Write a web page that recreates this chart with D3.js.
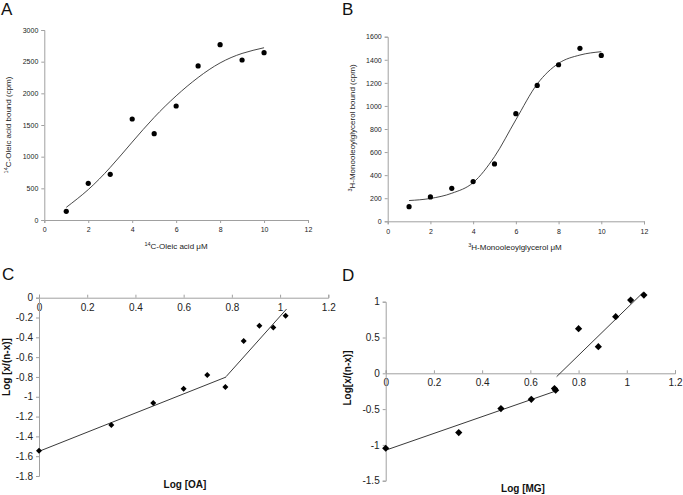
<!DOCTYPE html>
<html><head><meta charset="utf-8">
<script src="https://cdn.jsdelivr.net/npm/d3@7"></script>
<style>body{margin:0;background:#fff}svg{display:block;font-family:"Liberation Sans",Arial,sans-serif}</style>
</head><body><svg id="c" width="683" height="495"></svg>
<script>
// Panel A
const aX = [1,2,3,4,5,6,7,8,9,10];
const aY = [137,579,721,1595,1363,1800,2432,2768,2526,2642];
const aFitX = [1,2,3,4,5,6,7,8,9,10];
const aFitY = [200,480,830,1230,1620,1960,2250,2480,2630,2720];
const aXTicks = [0,2,4,6,8,10,12];
const aYTicks = [0,500,1000,1500,2000,2500,3000];
// Panel B
const bX = [1,2,3,4,5,6,7,8,9,10];
const bY = [127,211,286,344,497,933,1178,1357,1499,1438];
const bFitX = [1,2,3,4,5,6,7,8,9,10];
const bFitY = [180,198,243,335,560,880,1190,1369,1441,1470];
const bXTicks = [0,2,4,6,8,10,12];
const bYTicks = [0,200,400,600,800,1000,1200,1400,1600];
// Panel C
const cX = [0,0.30,0.474,0.60,0.698,0.773,0.849,0.914,0.972,1.023];
const cY = [-1.544,-1.285,-1.063,-0.919,-0.781,-0.902,-0.437,-0.283,-0.30,-0.182];
const cLine1 = [[0,-1.551],[0.776,-0.801]];
const cLine2 = [[0.776,-0.797],[1.027,-0.114]];
const cXTicks = [0,0.2,0.4,0.6,0.8,1,1.2];
const cYTicks = [0,-0.2,-0.4,-0.6,-0.8,-1,-1.2,-1.4,-1.6,-1.8];
// Panel D
const dX = [0,0.303,0.478,0.604,0.700,0.705,0.800,0.882,0.954,1.016,1.071];
const dY = [-1.047,-0.828,-0.493,-0.363,-0.214,-0.237,0.623,0.372,0.791,1.023,1.093];
const dLine1 = [[0,-1.074],[0.706,-0.247]];
const dLine2 = [[0.709,-0.047],[1.068,1.13]];
const dXTicks = [0,0.2,0.4,0.6,0.8,1,1.2];
const dYTicks = [1,0.5,0,-0.5,-1,-1.5];

const svg = d3.select("#c");
const fmt = d => String(d);
const axisCol = "#a0a0a0";

function styleAxis(g, fs){
  g.selectAll("path.domain").attr("stroke", axisCol).attr("stroke-width",1);
  g.selectAll(".tick line").attr("stroke", axisCol);
  g.selectAll(".tick text").attr("fill","#222").attr("font-size",fs).attr("font-family","Liberation Sans, Arial, sans-serif");
}

function letter(x,y,t){
  svg.append("text").attr("x",x).attr("y",y).attr("font-size",17).attr("fill","#111").text(t);
}

// ---------- A ----------
{
  const x = d3.scaleLinear().domain([0,12]).range([44.3,308]);
  const y = d3.scaleLinear().domain([0,3000]).range([220,30]);
  const gx = svg.append("g").attr("transform","translate(0,220)")
    .call(d3.axisBottom(x).tickValues(aXTicks).tickSize(3).tickFormat(fmt));
  styleAxis(gx,7); gx.selectAll(".tick text").attr("dy","0.9em");
  const gy = svg.append("g").attr("transform","translate(44.3,0)")
    .call(d3.axisLeft(y).tickValues(aYTicks).tickSize(3).tickFormat(fmt));
  styleAxis(gy,7);
  svg.append("path").datum(aFitX.map((d,i)=>[d,aFitY[i]]))
    .attr("fill","none").attr("stroke","#333").attr("stroke-width",0.9)
    .attr("d", d3.line().x(d=>x(d[0])).y(d=>y(d[1])).curve(d3.curveNatural));
  svg.append("g").selectAll("circle").data(aX).join("circle")
    .attr("cx",d=>x(d)).attr("cy",(d,i)=>y(aY[i])).attr("r",2.6).attr("fill","#000");
  const xl = svg.append("text").attr("x",176).attr("y",249).attr("text-anchor","middle").attr("font-size",8).attr("fill","#222");
  xl.append("tspan").attr("font-size",5.5).attr("dy",-3).text("14");
  xl.append("tspan").attr("dy",3).text("C-Oleic acid μM");
  const yl = svg.append("text").attr("transform","translate(11,125) rotate(-90)").attr("text-anchor","middle").attr("font-size",8).attr("fill","#222");
  yl.append("tspan").attr("font-size",5.5).attr("dy",-3).text("14");
  yl.append("tspan").attr("dy",3).text("C-Oleic acid bound (cpm)");
  letter(1,15,"A");
}
// ---------- B ----------
{
  const x = d3.scaleLinear().domain([0,12]).range([387.7,644]);
  const y = d3.scaleLinear().domain([0,1600]).range([221.3,36.7]);
  const gx = svg.append("g").attr("transform","translate(0,221.3)")
    .call(d3.axisBottom(x).tickValues(bXTicks).tickSize(3).tickFormat(fmt));
  styleAxis(gx,7); gx.selectAll(".tick text").attr("dy","0.9em");
  const gy = svg.append("g").attr("transform","translate(387.7,0)")
    .call(d3.axisLeft(y).tickValues(bYTicks).tickSize(3).tickFormat(fmt));
  styleAxis(gy,7);
  svg.append("path").datum(bFitX.map((d,i)=>[d,bFitY[i]]))
    .attr("fill","none").attr("stroke","#333").attr("stroke-width",0.9)
    .attr("d", d3.line().x(d=>x(d[0])).y(d=>y(d[1])).curve(d3.curveMonotoneX));
  svg.append("g").selectAll("circle").data(bX).join("circle")
    .attr("cx",d=>x(d)).attr("cy",(d,i)=>y(bY[i])).attr("r",2.6).attr("fill","#000");
  const xl = svg.append("text").attr("x",515).attr("y",250).attr("text-anchor","middle").attr("font-size",8).attr("fill","#222");
  xl.append("tspan").attr("font-size",5.5).attr("dy",-3).text("3");
  xl.append("tspan").attr("dy",3).text("H-Monooleoylglycerol μM");
  const yl = svg.append("text").attr("transform","translate(355,128) rotate(-90)").attr("text-anchor","middle").attr("font-size",8).attr("fill","#222");
  yl.append("tspan").attr("font-size",5.5).attr("dy",-3).text("3");
  yl.append("tspan").attr("dy",3).text("H-Monooleoylglycerol bound (cpm)");
  letter(342,15,"B");
}
const sq = s => d3.symbol().type(d3.symbolSquare).size(s);
// ---------- C ----------
{
  const x = d3.scaleLinear().domain([0,1.2]).range([39,328.3]);
  const y = d3.scaleLinear().domain([-1.8,0]).range([476,297.7]);
  const gx = svg.append("g").attr("transform",`translate(0,${y(0)})`)
    .call(d3.axisTop(x).tickValues(cXTicks).tickSize(3).tickFormat(fmt));
  styleAxis(gx,10);
  gx.selectAll(".tick text").attr("y",6).attr("dy","0.71em");
  const gy = svg.append("g").attr("transform","translate(39,0)")
    .call(d3.axisLeft(y).tickValues(cYTicks).tickSize(3).tickFormat(fmt));
  styleAxis(gy,10);
  const ln = d3.line().x(d=>x(d[0])).y(d=>y(d[1]));
  [cLine1,cLine2].forEach(L=>svg.append("path").attr("d",ln(L)).attr("stroke","#222").attr("stroke-width",0.9).attr("fill","none"));
  svg.append("g").selectAll("path").data(cX).join("path")
    .attr("transform",(d,i)=>`translate(${x(d)},${y(cY[i])}) rotate(45)`).attr("d",sq(18)).attr("fill","#000");
  svg.append("text").attr("x",185).attr("y",488).attr("text-anchor","middle").attr("font-size",10).attr("font-weight","bold").attr("fill","#111").text("Log [OA]");
  svg.append("text").attr("transform","translate(10,367) rotate(-90)").attr("text-anchor","middle").attr("font-size",10).attr("font-weight","bold").attr("fill","#111").text("Log [x/(n-x)]");
  letter(2,280,"C");
}
// ---------- D ----------
{
  const x = d3.scaleLinear().domain([0,1.2]).range([385.7,675]);
  const y = d3.scaleLinear().domain([-1.5,1]).range([480.7,301.7]);
  const gx = svg.append("g").attr("transform",`translate(0,${y(0)})`)
    .call(d3.axisTop(x).tickValues(dXTicks).tickSize(3).tickFormat(fmt));
  styleAxis(gx,10);
  gx.selectAll(".tick text").attr("y",6).attr("dy","0.71em");
  const gy = svg.append("g").attr("transform","translate(385.7,0)")
    .call(d3.axisLeft(y).tickValues(dYTicks).tickSize(3).tickFormat(fmt));
  styleAxis(gy,10);
  const ln = d3.line().x(d=>x(d[0])).y(d=>y(d[1]));
  [dLine1,dLine2].forEach(L=>svg.append("path").attr("d",ln(L)).attr("stroke","#222").attr("stroke-width",0.9).attr("fill","none"));
  svg.append("g").selectAll("path").data(dX).join("path")
    .attr("transform",(d,i)=>`translate(${x(d)},${y(dY[i])}) rotate(45)`).attr("d",sq(26)).attr("fill","#000");
  svg.append("text").attr("x",523).attr("y",492).attr("text-anchor","middle").attr("font-size",10).attr("font-weight","bold").attr("fill","#111").text("Log [MG]");
  svg.append("text").attr("transform","translate(351,378) rotate(-90)").attr("text-anchor","middle").attr("font-size",10).attr("font-weight","bold").attr("fill","#111").text("Log[x/(n-x)]");
  letter(342,281,"D");
}
</script></body></html>
